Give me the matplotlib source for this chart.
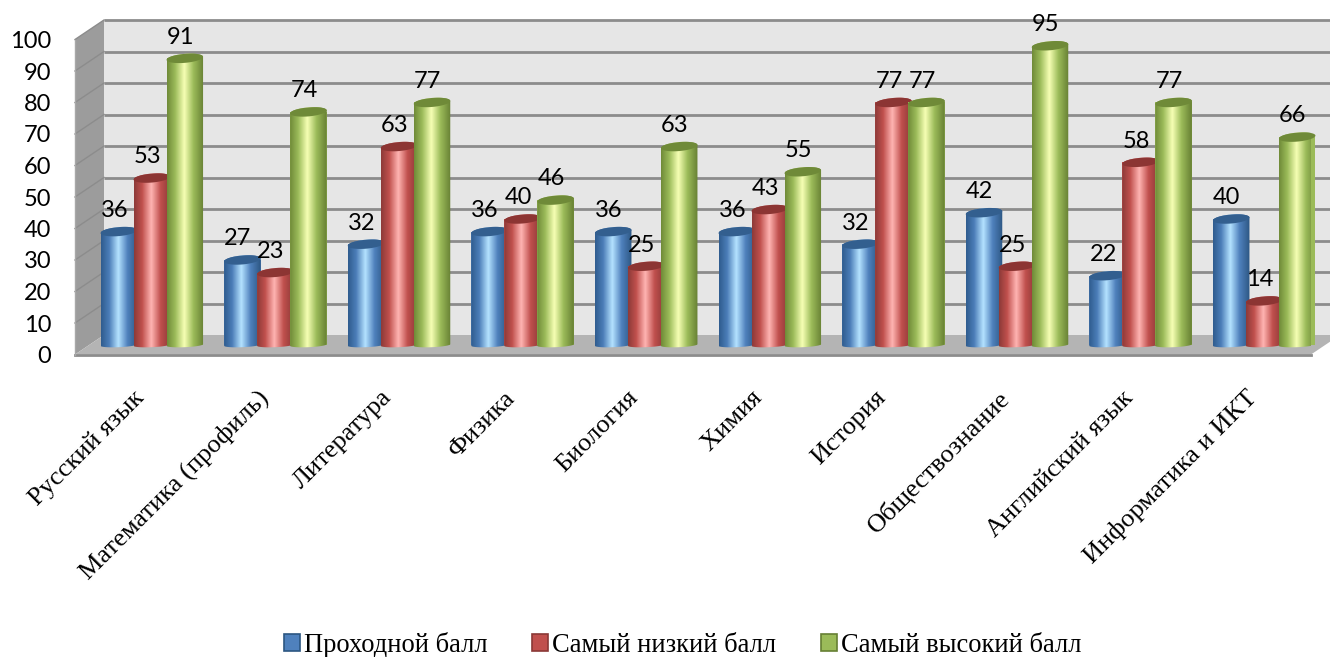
import numpy as np
import matplotlib
matplotlib.use("Agg")
import matplotlib.pyplot as plt
from matplotlib.colors import LinearSegmentedColormap
from matplotlib.patches import Patch, Polygon
from matplotlib.transforms import offset_copy, ScaledTranslation

categories = ["Русский язык", "Математика (профиль)", "Литература", "Физика", "Биология",
              "Химия", "История", "Обществознание", "Английский язык", "Информатика и ИКТ"]
series_names = ["Проходной балл", "Самый низкий балл", "Самый высокий балл"]
passing = [36, 27, 32, 36, 36, 36, 32, 42, 22, 40]
lowest = [53, 23, 63, 40, 25, 43, 77, 25, 58, 14]
highest = [91, 74, 77, 46, 63, 55, 77, 95, 77, 66]
y_ticks = list(range(0, 101, 10))

series_values = [passing, lowest, highest]
ramps = [
    ["#2f5c8e", "#4b7db8", "#b4e2ff", "#4f81bd", "#2c5682"],
    ["#8c3a38", "#c0504d", "#ffb4b2", "#c0504d", "#8a3836"],
    ["#6f8a38", "#9bbb59", "#f6ffb4", "#9bbb59", "#667f33"],
]
top_colors = ["#335f8f", "#8c3533", "#6f8a38"]
legend_fill = ["#4f81bd", "#c0504d", "#9bbb59"]
legend_edge = ["#2c5682", "#8a3836", "#667f33"]

W, H = 1330, 657
fig = plt.figure(figsize=(W / 100, H / 100), dpi=100, facecolor="white")
L, R, T, B = 75, 1311, 39.5, 354.5
ax = fig.add_axes([L / W, 1 - B / H, (R - L) / W, (B - T) / H], facecolor="none")
ax.set_xlim(-0.5, 9.5)
ax.set_ylim(0, 100)

# plane through the cylinders, as a pixel offset from the front plane of the box
mid = offset_copy(ax.transData, fig=fig, x=15, y=9.5, units="dots")
px_x = (R - L) / 10   # pixels per category
px_y = (B - T) / 100  # pixels per score point

for sp in ax.spines.values():
    sp.set_visible(False)

x0, x1 = -0.5, 9.5
dx = 29 / px_x
dy = 19.5 / px_y
ax.add_patch(Polygon([(x0 + dx, dy), (x0 + dx + 10, dy), (x0 + dx + 10, 100 + dy), (x0 + dx, 100 + dy)],
                     closed=True, fc="#e6e6e6", ec="none", zorder=0, clip_on=False))
ax.add_patch(Polygon([(x0, 0), (x0 + dx, dy), (x0 + dx, 100 + dy), (x0, 100)],
                     closed=True, fc="#9c9c9c", ec="none", zorder=0.1, clip_on=False))
ax.add_patch(Polygon([(x0, 0), (x0 + dx, dy), (x0 + dx + 10, dy), (x1, 0)],
                     closed=True, fc="#b4b4b4", ec="none", zorder=0.1, clip_on=False))
for v in y_ticks:
    if v > 0:
        ax.plot([x0 + dx, x0 + dx + 10], [v + dy, v + dy], color="#8c8c8c", lw=2.0,
                zorder=0.2, clip_on=False, solid_capstyle="butt")
        ax.plot([x0, x0 + dx], [v, v + dy], color="#8c8c8c", lw=1.0, zorder=0.2, clip_on=False)
ax.plot([x0, x1], [0, 0], color="#8c8c8c", lw=2.0, zorder=0.3, clip_on=False)
ax.plot([x0, x0], [0, 100], color="#a8a8a8", lw=1.0, zorder=0.3, clip_on=False)

bar_w = 36.5 / px_x
step = 33 / px_x
ell_b = 4.5 / px_y    # half-height of the cylinder top
tilt = 1.5 / px_y     # rise to the right of the cylinder top
foot_b = 2.2 / px_y   # half-height of the cylinder foot
foot_tilt = 0.8 / px_y
t_low = np.linspace(np.pi, 2 * np.pi, 50)
t_up = np.linspace(0, np.pi, 50)
t_all = np.linspace(0, 2 * np.pi, 80)

grad = np.linspace(0, 1, 256).reshape(1, -1)
for s, values in enumerate(series_values):
    cmap = LinearSegmentedColormap.from_list(f"c{s}", list(zip([0, .22, .47, .72, 1], ramps[s])))
    xs = np.arange(10) + (s - 1) * step
    z = 2 + s
    bars = ax.bar(xs, values, bar_w, color=legend_fill[s], transform=mid, zorder=z, clip_on=False)
    for xc, v, rect in zip(xs, values, bars):
        a = bar_w / 2
        lower_x = xc + a * np.cos(t_low)
        lower_y = foot_b * np.sin(t_low) + foot_tilt * np.cos(t_low)
        upper_x = xc + a * np.cos(t_up)
        upper_y = v + ell_b * np.sin(t_up) + tilt * np.cos(t_up)
        outline = np.column_stack([np.r_[lower_x, upper_x], np.r_[lower_y, upper_y]])
        clip = Polygon(outline, closed=True, transform=mid, fc="none", ec="none", zorder=z)
        ax.add_patch(clip)
        im = ax.imshow(grad, cmap=cmap, aspect="auto", interpolation="bilinear",
                       extent=[xc - a, xc + a, -2 * ell_b, v + 2 * ell_b],
                       transform=mid, zorder=z + 0.1)
        im.set_clip_path(clip)
        cap = np.column_stack([xc + a * np.cos(t_all),
                               v + ell_b * np.sin(t_all) + tilt * np.cos(t_all)])
        ax.add_patch(Polygon(cap, closed=True, transform=mid, fc=top_colors[s], ec="none",
                             zorder=z + 0.2, clip_on=False))
        ax.annotate(str(v), xy=(xc, v), xycoords=mid, xytext=(-3.2, 15.2), textcoords="offset points",
                    ha="center", va="center", fontsize=17, family="Lato", color="black",
                    zorder=10, annotation_clip=False)

ax.set_xlim(-0.5, 9.5)
ax.set_ylim(0, 100)
ax.set_yticks(y_ticks)
ax.set_yticklabels([str(v) for v in y_ticks], family="Lato", fontsize=17, color="black")
ax.tick_params(axis="y", length=0, pad=17)
ax.set_xticks(np.arange(10))
ax.set_xticklabels(categories, family="Liberation Serif", fontsize=19, color="black",
                   rotation=45, ha="right", va="top", rotation_mode="anchor")
ax.tick_params(axis="x", length=0, pad=23)
shift = ScaledTranslation(-4 / 100, 0, fig.dpi_scale_trans)
for lab in ax.get_xticklabels():
    lab.set_transform(lab.get_transform() + shift)

handles = [Patch(facecolor=legend_fill[i], edgecolor=legend_edge[i], linewidth=1.2, label=series_names[i])
           for i in range(3)]
fig.legend(handles=handles, ncol=3, loc="center", bbox_to_anchor=(682.5 / W, 1 - 645 / H), frameon=False,
           prop={"family": "Liberation Serif", "size": 19.1}, handlelength=0.6, handleheight=0.6,
           handletextpad=0.15, columnspacing=1.68, borderpad=0)

fig.savefig("out.png", dpi=100)
